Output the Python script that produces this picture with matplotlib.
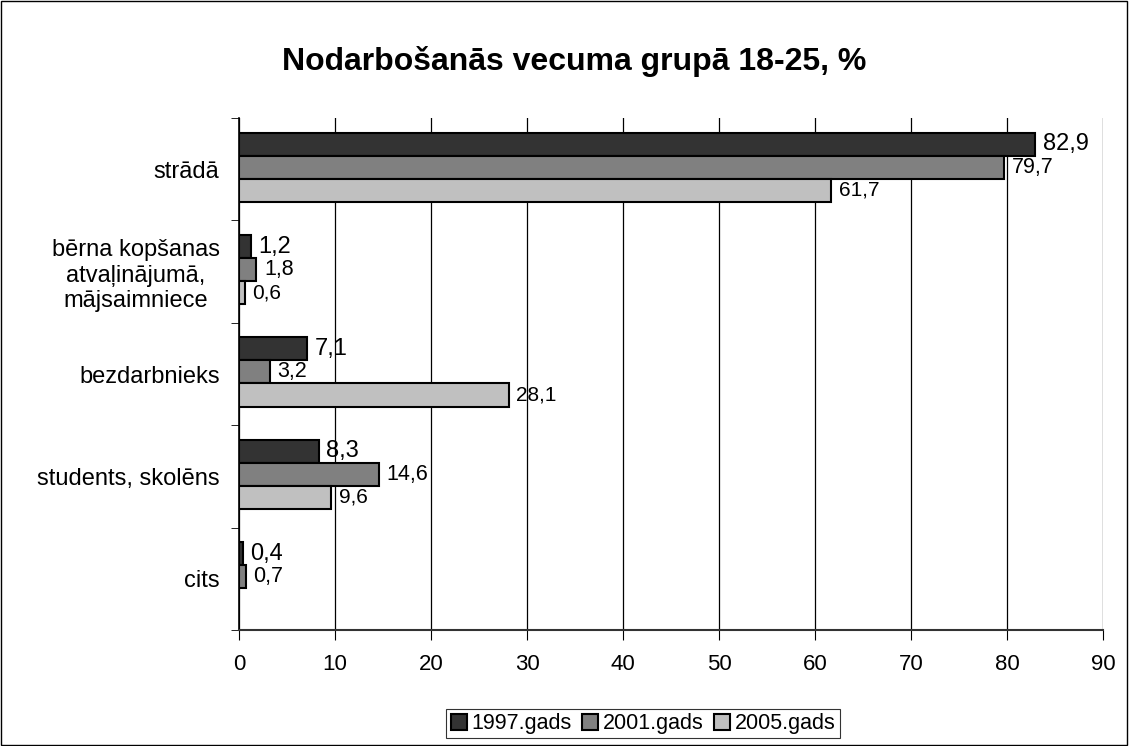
import matplotlib.pyplot as plt
import numpy as np

plt.rcParams['font.family'] = ['Liberation Sans', 'DejaVu Sans']

categories = ['strādā', 'bērna kopšanas\natvaļinājumā,\nmājsaimniece',
              'bezdarbnieks', 'students, skolēns', 'cits']
series_names = ['1997.gads', '2001.gads', '2005.gads']
v1997 = [82.9, 1.2, 7.1, 8.3, 0.4]
v2001 = [79.7, 1.8, 3.2, 14.6, 0.7]
v2005 = [61.7, 0.6, 28.1, 9.6, np.nan]
colors = ['#333333', '#808080', '#c0c0c0']
label_sizes = [17, 15.5, 15]

fig = plt.figure(figsize=(11.29, 7.46), dpi=100)
fig.patches.append(plt.Rectangle((0.0005, 0.001), 0.998, 0.998, transform=fig.transFigure,
                                 fill=False, edgecolor='black', linewidth=1))
ax = fig.add_axes([0.2117, 0.1555, 0.7653, 0.6863])

y = np.arange(len(categories))
h = 0.225
for i, (vals, name) in enumerate(zip([v1997, v2001, v2005], series_names)):
    pos = y + (i - 1) * h - 0.02
    ax.barh(pos, vals, height=h, color=colors[i], edgecolor='black',
            linewidth=1.5, label=name, zorder=3)
    for p, v in zip(pos, vals):
        if np.isnan(v):
            continue
        ax.text(v + 0.8, p, f'{v:.1f}'.replace('.', ','), va='center', ha='left',
                fontsize=label_sizes[i], zorder=4)

ax.set_xlim(0, 90)
ax.set_ylim(len(categories) - 0.5, -0.5)
ax.set_xticks(range(0, 91, 10))
ax.set_yticks(y)
ax.set_yticklabels(categories, fontsize=17, multialignment='center')
ax.set_yticks(np.arange(-0.5, len(categories), 1), minor=True)
ax.tick_params(axis='y', which='major', length=0, pad=14)
ax.tick_params(axis='y', which='minor', length=6, direction='out')
ax.tick_params(axis='x', labelsize=16, length=7, direction='out', pad=10)
ax.grid(axis='x', color='black', linewidth=0.9, zorder=0)
for s in ['top', 'right']:
    ax.spines[s].set_visible(False)
ax.spines['left'].set_linewidth(1.2)
ax.spines['bottom'].set_linewidth(1.5)
ax.spines['bottom'].set_color('#333333')

fig.text(0.509, 0.918, 'Nodarbošanās vecuma grupā 18-25, %', fontsize=23,
         fontweight='bold', ha='center', va='center')

leg = fig.legend(loc='lower center', bbox_to_anchor=(0.5695, 0.0), ncol=3, fontsize=15.5,
                 frameon=True, fancybox=False, edgecolor='black', handlelength=0.75,
                 handleheight=0.75, handletextpad=0.2, columnspacing=0.5,
                 borderpad=0.2, borderaxespad=0.35)
leg.get_frame().set_linewidth(0.8)

fig.savefig('out.png', dpi=100)
